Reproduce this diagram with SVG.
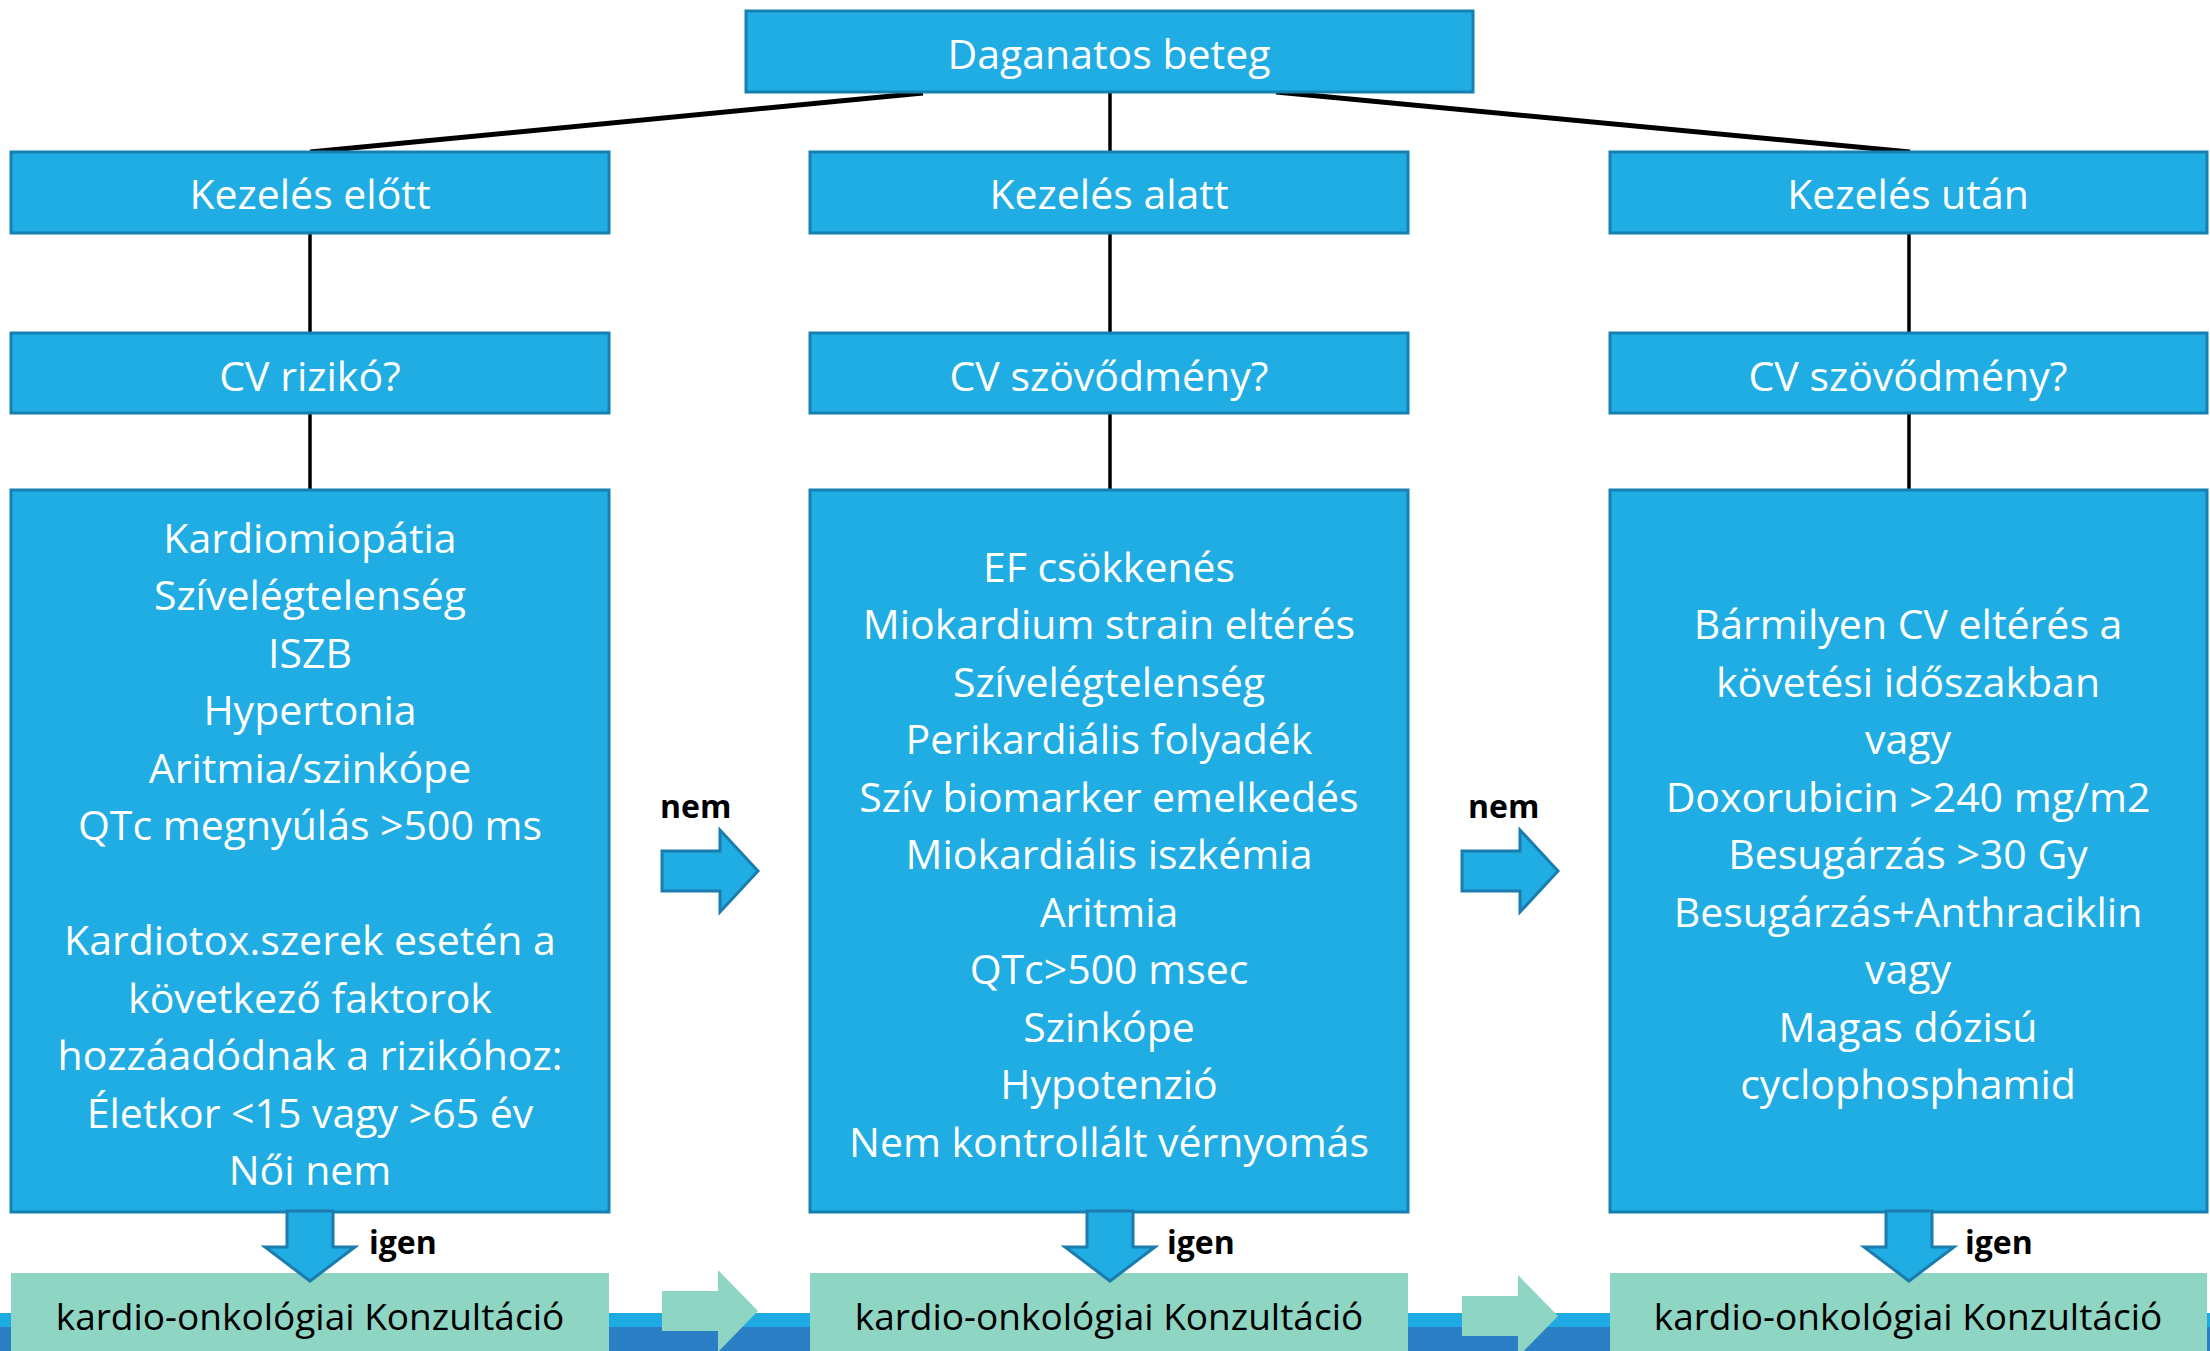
<svg xmlns="http://www.w3.org/2000/svg" width="2210" height="1351" viewBox="0 0 2210 1351">
<style>
.box{fill:#1FADE4;stroke:#1680B2;stroke-width:3}
.green{fill:#8ED6C3}
.arr{fill:#1FADE4;stroke:#1A7DAE;stroke-width:3;stroke-linejoin:miter}
.garr{fill:#8ED6C3}
.t{font-family:"Open Sans","Noto Sans",sans-serif;font-size:41px;fill:#FFFFFF;text-anchor:middle}
.g{font-family:"Open Sans","Noto Sans",sans-serif;font-size:37px;fill:#000000;text-anchor:middle}
.lbl{font-family:"Open Sans","Noto Sans",sans-serif;font-size:32px;font-weight:bold;fill:#000000}
.ln{stroke:#000;fill:none}
</style>
<rect x="0" y="0" width="2210" height="1351" fill="#FFFFFF"/>
<g id="band">
<rect x="0" y="1313" width="2210" height="14" fill="#1EAAE2"/>
<rect x="0" y="1327" width="2210" height="24" fill="#2B7FC4"/>
</g>
<g id="connectors">
<line class="ln" stroke-width="5" x1="923" y1="93" x2="310" y2="152"/>
<line class="ln" stroke-width="3.5" x1="1110" y1="92" x2="1110" y2="152"/>
<line class="ln" stroke-width="5" x1="1276" y1="92" x2="1910" y2="152"/>
<line class="ln" stroke-width="3.5" x1="310" y1="233" x2="310" y2="333"/>
<line class="ln" stroke-width="3.5" x1="1110" y1="233" x2="1110" y2="333"/>
<line class="ln" stroke-width="3.5" x1="1909" y1="233" x2="1909" y2="333"/>
<line class="ln" stroke-width="3.5" x1="310" y1="413" x2="310" y2="490"/>
<line class="ln" stroke-width="3.5" x1="1110" y1="413" x2="1110" y2="490"/>
<line class="ln" stroke-width="3.5" x1="1909" y1="413" x2="1909" y2="490"/>
<polygon class="arr" points="662,851 720,851 720,830 758,871 720,912 720,891 662,891"/>
<polygon class="arr" points="1462,851 1520,851 1520,830 1558,871 1520,912 1520,891 1462,891"/>
<polygon class="garr" points="662,1291 718,1291 718,1270 758,1311 718,1352 718,1331 662,1331"/>
<polygon class="garr" points="1462,1296 1518,1296 1518,1275 1558,1316 1518,1357 1518,1336 1462,1336"/>
<text class="lbl" x="660" y="817.5">nem</text>
<text class="lbl" x="1468" y="817.5">nem</text>
</g>
<g id="n-top">
<rect class="box" x="746" y="11" width="727" height="81"/>
<text class="t" x="1109" y="68.5">Daganatos beteg</text>
</g>
<g id="n-elott">
<rect class="box" x="11" y="152" width="598" height="81"/>
<text class="t" x="310" y="208.5">Kezelés előtt</text>
</g>
<g id="n-alatt">
<rect class="box" x="810" y="152" width="598" height="81"/>
<text class="t" x="1109" y="208.5">Kezelés alatt</text>
</g>
<g id="n-utan">
<rect class="box" x="1610" y="152" width="597" height="81"/>
<text class="t" x="1908" y="208.5">Kezelés után</text>
</g>
<g id="n-rizik">
<rect class="box" x="11" y="333" width="598" height="80"/>
<text class="t" x="310" y="390.5">CV rizikó?</text>
</g>
<g id="n-szov1">
<rect class="box" x="810" y="333" width="598" height="80"/>
<text class="t" x="1109" y="390.5">CV szövődmény?</text>
</g>
<g id="n-szov2">
<rect class="box" x="1610" y="333" width="597" height="80"/>
<text class="t" x="1908" y="390.5">CV szövődmény?</text>
</g>
<g id="n-green1">
<rect class="green" x="11" y="1273" width="598" height="80"/>
<text class="g" x="310" y="1329.5">kardio-onkológiai Konzultáció</text>
</g>
<g id="n-green2">
<rect class="green" x="810" y="1273" width="598" height="80"/>
<text class="g" x="1109" y="1329.5">kardio-onkológiai Konzultáció</text>
</g>
<g id="n-green3">
<rect class="green" x="1610" y="1273" width="597" height="80"/>
<text class="g" x="1908" y="1329.5">kardio-onkológiai Konzultáció</text>
</g>
<g id="n-big1">
<rect class="box" x="11" y="490" width="598" height="722"/>
<text class="t" x="310" y="552.5">Kardiomiopátia</text>
<text class="t" x="310" y="610">Szívelégtelenség</text>
<text class="t" x="310" y="667.5">ISZB</text>
<text class="t" x="310" y="725">Hypertonia</text>
<text class="t" x="310" y="782.5">Aritmia/szinkópe</text>
<text class="t" x="310" y="840">QTc megnyúlás &gt;500 ms</text>
<text class="t" x="310" y="955">Kardiotox.szerek esetén a</text>
<text class="t" x="310" y="1012.5">következő faktorok</text>
<text class="t" x="310" y="1070">hozzáadódnak a rizikóhoz:</text>
<text class="t" x="310" y="1127.5">Életkor &lt;15 vagy &gt;65 év</text>
<text class="t" x="310" y="1185">Női nem</text>
</g>
<g id="n-big2">
<rect class="box" x="810" y="490" width="598" height="722"/>
<text class="t" x="1109" y="581.5">EF csökkenés</text>
<text class="t" x="1109" y="639">Miokardium strain eltérés</text>
<text class="t" x="1109" y="696.5">Szívelégtelenség</text>
<text class="t" x="1109" y="754">Perikardiális folyadék</text>
<text class="t" x="1109" y="811.5">Szív biomarker emelkedés</text>
<text class="t" x="1109" y="869">Miokardiális iszkémia</text>
<text class="t" x="1109" y="926.5">Aritmia</text>
<text class="t" x="1109" y="984">QTc&gt;500 msec</text>
<text class="t" x="1109" y="1041.5">Szinkópe</text>
<text class="t" x="1109" y="1099">Hypotenzió</text>
<text class="t" x="1109" y="1156.5">Nem kontrollált vérnyomás</text>
</g>
<g id="n-big3">
<rect class="box" x="1610" y="490" width="597" height="722"/>
<text class="t" x="1908" y="639">Bármilyen CV eltérés a</text>
<text class="t" x="1908" y="696.5">követési időszakban</text>
<text class="t" x="1908" y="754">vagy</text>
<text class="t" x="1908" y="811.5">Doxorubicin &gt;240 mg/m2</text>
<text class="t" x="1908" y="869">Besugárzás &gt;30 Gy</text>
<text class="t" x="1908" y="926.5">Besugárzás+Anthraciklin</text>
<text class="t" x="1908" y="984">vagy</text>
<text class="t" x="1908" y="1041.5">Magas dózisú</text>
<text class="t" x="1908" y="1099">cyclophosphamid</text>
</g>
<g id="igen-arrows">
<polygon class="arr" points="287,1211 333,1211 333,1247 355,1247 310,1281 265,1247 287,1247"/>
<polygon class="arr" points="1087,1211 1133,1211 1133,1247 1155,1247 1110,1281 1065,1247 1087,1247"/>
<polygon class="arr" points="1886,1211 1932,1211 1932,1247 1954,1247 1909,1281 1864,1247 1886,1247"/>
<text class="lbl" x="369" y="1254">igen</text>
<text class="lbl" x="1167" y="1254">igen</text>
<text class="lbl" x="1965" y="1254">igen</text>
</g>
</svg>
